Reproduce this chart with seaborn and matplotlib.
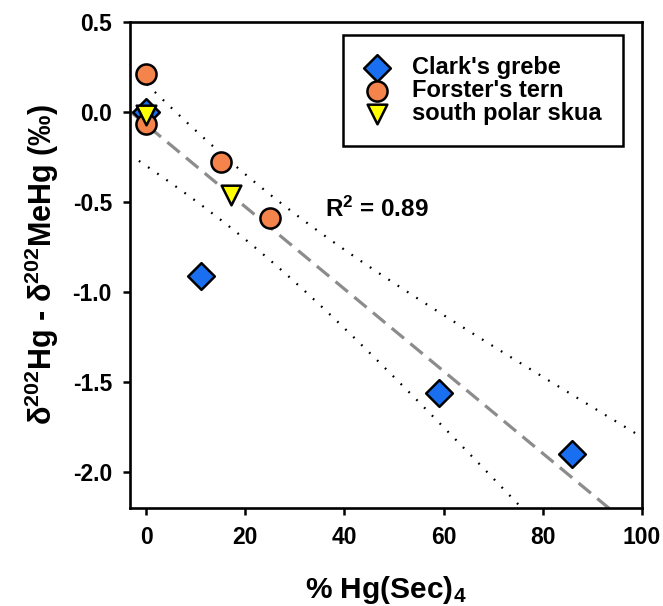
import numpy as np
import pandas as pd
import matplotlib
matplotlib.use('Agg')
import matplotlib.pyplot as plt
import seaborn as sns

# values
grebe_x = [0, 11, 59, 86]
grebe_y = [0.0, -0.91, -1.56, -1.90]
tern_x = [0, 0, 15, 25]
tern_y = [0.21, -0.07, -0.28, -0.59]
skua_x = [0, 17]
skua_y = [-0.02, -0.46]

species = ["Clark's grebe", "Forster's tern", "south polar skua"]
colors = ['#1a6ff0', '#f5844c', '#ffff00']
markers = ['D', 'o', 'v']
sizes = [185, 210, 200]

x_ticks = [0, 20, 40, 60, 80, 100]
y_ticks = [0.5, 0.0, -0.5, -1.0, -1.5, -2.0]
T_975_DF8 = 2.306

df = pd.DataFrame({
    'x': grebe_x + tern_x + skua_x,
    'y': grebe_y + tern_y + skua_y,
    'species': [species[0]] * len(grebe_x) + [species[1]] * len(tern_x) + [species[2]] * len(skua_x),
})

sns.set_theme(style='ticks')
plt.rcParams['font.family'] = ['Liberation Sans', 'DejaVu Sans']
plt.rcParams['font.weight'] = 'bold'
plt.rcParams['text.color'] = 'black'
plt.rcParams['axes.labelcolor'] = 'black'
plt.rcParams['xtick.color'] = 'black'
plt.rcParams['ytick.color'] = 'black'
plt.rcParams['axes.unicode_minus'] = False
plt.rcParams['mathtext.fontset'] = 'custom'
plt.rcParams['mathtext.rm'] = 'Liberation Sans'
plt.rcParams['mathtext.bf'] = 'Liberation Sans:bold'
plt.rcParams['mathtext.it'] = 'Liberation Sans:italic'

fig = plt.figure(figsize=(6.63, 6.06), dpi=100)
ax = fig.add_axes([0.196, 0.162, 0.772, 0.802])
ax.set_xlim(-3.3, 100)
ax.set_ylim(-2.2, 0.5)

# regression line and 95% confidence band
x = df['x'].to_numpy(float)
y = df['y'].to_numpy(float)
slope, intercept = np.polyfit(x, y, 1)
resid = y - (slope * x + intercept)
n = len(x)
s = np.sqrt(np.sum(resid ** 2) / (n - 2))
sxx = np.sum((x - x.mean()) ** 2)
r2 = 1 - np.sum(resid ** 2) / np.sum((y - y.mean()) ** 2)

sns.regplot(data=df, x='x', y='y', scatter=False, ci=None, truncate=False, ax=ax,
            line_kws=dict(color='#8c8c8c', lw=2.3, ls=(0, (5, 2.6)), zorder=2))

xg = np.linspace(-1.5, 100, 200)
half = T_975_DF8 * s * np.sqrt(1 / n + (xg - x.mean()) ** 2 / sxx)
fit = slope * xg + intercept
ax.plot(xg, fit + half, color='black', lw=1.6, ls=(0, (0.8, 4.2)), zorder=2)
ax.plot(xg, fit - half, color='black', lw=1.6, ls=(0, (0.8, 4.2)), zorder=2)

for sp, c, m, sz in zip(species, colors, markers, sizes):
    sub = df[df['species'] == sp]
    sns.scatterplot(data=sub, x='x', y='y', color=c, marker=m, s=sz, edgecolor='black',
                    linewidth=1.8, label=sp, ax=ax, zorder=3)

ax.set_xlim(-3.3, 100)
ax.set_ylim(-2.2, 0.5)
ax.set_xticks(x_ticks)
ax.set_yticks(y_ticks)
ax.set_yticklabels([f'{v:.1f}' for v in y_ticks])
ax.tick_params(direction='out', length=5, width=1.8, labelsize=16.5, pad=8)
for sp in ax.spines.values():
    sp.set_linewidth(1.9)
    sp.set_color('black')

ax.set_xlabel(r'% Hg(Sec)$_\mathbf{4}$', fontsize=21.5, fontweight='bold', labelpad=18)
ax.set_ylabel(r'$\mathrm{\delta}^{\mathbf{202}}$Hg - $\mathrm{\delta}^{\mathbf{202}}$MeHg (‰)',
              fontsize=22, fontweight='bold', labelpad=8)

ax.text(36, -0.54, r'R$^{\mathbf{2}}$ = ' + f'{r2:.2f}', fontsize=17.5, fontweight='bold',
        ha='left', va='center')

leg = ax.legend(loc='upper right', bbox_to_anchor=(0.963, 0.973), frameon=True, fancybox=False,
                edgecolor='black', framealpha=1, fontsize=17, handlelength=1.0,
                handletextpad=1.0, borderpad=0.9, labelspacing=0.0, borderaxespad=0)
leg.get_frame().set_linewidth(1.8)

plt.savefig('out.png', dpi=100)
